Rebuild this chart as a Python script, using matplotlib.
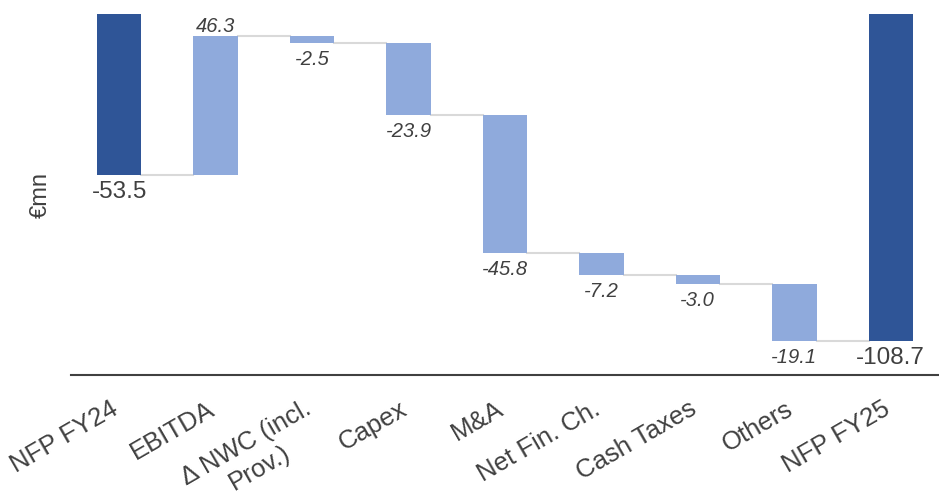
import matplotlib.pyplot as plt
import matplotlib.transforms as mtransforms
import numpy as np

plt.rcParams['font.family'] = ['Liberation Sans', 'DejaVu Sans']

categories = ['NFP FY24', 'EBITDA', 'Δ NWC (incl.\nProv.)', 'Capex', 'M&A',
              'Net Fin. Ch.', 'Cash Taxes', 'Others', 'NFP FY25']
start_total = -53.5
deltas = [46.3, -2.5, -23.9, -45.8, -7.2, -3.0, -19.1]
end_total = -108.7

DARK = '#2F5597'
LIGHT = '#8FAADC'
TXT = '#404040'

fig = plt.figure(figsize=(9.39, 5.02), dpi=100)
ax = fig.add_axes([71 / 939, 1 - 376 / 502, 1 - 71 / 939, (376 - 15) / 502])

w = 0.46
x = np.arange(len(categories))

# running levels
levels = [start_total]
for d in deltas:
    levels.append(levels[-1] + d)

# total bars
ax.bar(x[0], start_total, width=w, color=DARK)
ax.bar(x[-1], end_total, width=w, color=DARK)

# delta bars
for i, d in enumerate(deltas):
    ax.bar(x[i + 1], d, bottom=levels[i], width=w, color=LIGHT)

# connectors
for i in range(len(levels)):
    ax.plot([x[i] + w / 2, x[i + 1] - w / 2], [levels[i], levels[i]],
            color='#d9d9d9', lw=1.5, zorder=0)

# labels
ax.text(x[0], start_total - 1.6, f'{start_total:.1f}', ha='center', va='top',
        fontsize=17.5, color=TXT)
ax.text(x[-1], end_total - 1.6, f'{end_total:.1f}', ha='center', va='top',
        fontsize=17.5, color=TXT)
for i, d in enumerate(deltas):
    if d > 0:
        ax.text(x[i + 1], levels[i + 1] + 0.3, f'{d:.1f}', ha='center', va='bottom',
                fontsize=14.5, style='italic', color=TXT)
    else:
        ax.text(x[i + 1], levels[i + 1] - 2.0, f'{d:.1f}', ha='center', va='top',
                fontsize=14.5, style='italic', color=TXT)

ax.set_xlim(-0.5, 8.5)
ax.set_ylim(-120, 0)
ax.set_xticks(x)
ax.set_xticklabels(categories, rotation=30, ha='right', va='top',
                   rotation_mode='anchor', fontsize=18.5, color=TXT,
                   multialignment='center')
ax.tick_params(axis='x', length=0, pad=15)
shift = mtransforms.ScaledTranslation(-0.09, 0, fig.dpi_scale_trans)
for lbl in ax.get_xticklabels():
    lbl.set_transform(lbl.get_transform() + shift)
ax.set_yticks([])
for s in ['top', 'right', 'left']:
    ax.spines[s].set_visible(False)
ax.spines['bottom'].set_color('#404040')
ax.spines['bottom'].set_linewidth(1.5)
ax.set_ylabel('€mn', fontsize=17, color=TXT, labelpad=14)

fig.savefig('out.png', dpi=100)
